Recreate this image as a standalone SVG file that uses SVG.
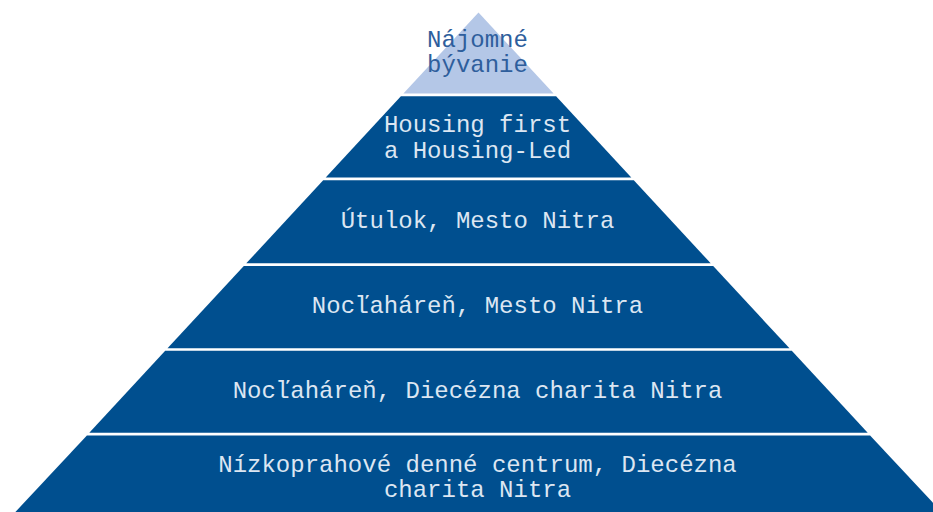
<svg xmlns="http://www.w3.org/2000/svg" width="933" height="512" viewBox="0 0 933 512">
<style>
.band{fill:#004F8F}
.top{fill:#B4C7E7}
text{font-family:"Liberation Mono","Courier New",monospace;font-size:24px;text-anchor:middle}
.lt{fill:#DCE6F2}
.dt{fill:#2E5E9C}
</style>
<rect width="933" height="512" fill="#FFFFFF"/>
<g id="level1">
<polygon class="top" points="478.5,12.5 553.6,93.6 403.4,93.6"/>
<text class="dt" x="477.5" y="46.5">Nájomné</text>
<text class="dt" x="477.5" y="71.5">bývanie</text>
</g>
<g id="level2">
<polygon class="band" points="400.9,96.3 556.1,96.3 631.3,177.5 325.7,177.5"/>
<text class="lt" x="477.5" y="132">Housing first</text>
<text class="lt" x="477.5" y="157.5">a Housing-Led</text>
</g>
<g id="level3">
<polygon class="band" points="323.2,180.2 633.8,180.2 710.7,263.3 246.3,263.3"/>
<text class="lt" x="477.5" y="228">Útulok, Mesto Nitra</text>
</g>
<g id="level4">
<polygon class="band" points="243.8,266 713.2,266 789.5,348.3 167.5,348.3"/>
<text class="lt" x="477.5" y="313">Nocľaháreň, Mesto Nitra</text>
</g>
<g id="level5">
<polygon class="band" points="165.2,350.8 791.8,350.8 867.7,432.8 89.3,432.8"/>
<text class="lt" x="477.5" y="398">Nocľaháreň, Diecézna charita Nitra</text>
</g>
<g id="level6">
<polygon class="band" points="86.9,435.4 870.1,435.4 949.1,520 7.9,520"/>
<text class="lt" x="477.5" y="471.5">Nízkoprahové denné centrum, Diecézna</text>
<text class="lt" x="477.5" y="496.5">charita Nitra</text>
</g>
<g id="connectors"></g>
</svg>
